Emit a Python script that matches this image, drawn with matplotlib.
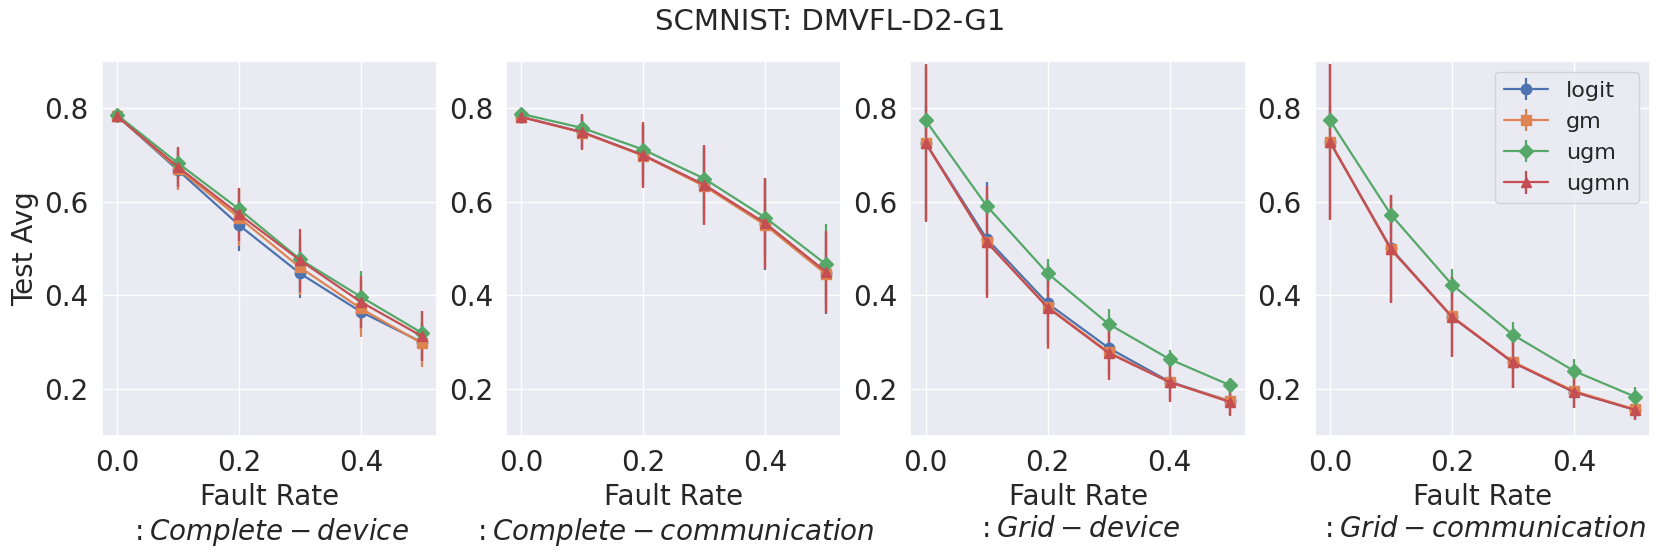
import numpy as np
import matplotlib
matplotlib.use("Agg")
import matplotlib.pyplot as plt
import seaborn as sns

# fault rates on the x axis
fault_rates = [0.0, 0.1, 0.2, 0.3, 0.4, 0.5]
methods = ['logit', 'gm', 'ugm', 'ugmn']
markers = ['o', 's', 'D', '^']
scenarios = ['Complete-device', 'Complete-communication', 'Grid-device', 'Grid-communication']

# Complete - device
cd_logit = [0.783, 0.667, 0.550, 0.447, 0.365, 0.300]
cd_gm = [0.783, 0.670, 0.566, 0.460, 0.372, 0.298]
cd_ugm = [0.785, 0.682, 0.584, 0.477, 0.397, 0.320]
cd_ugmn = [0.782, 0.674, 0.573, 0.475, 0.386, 0.313]
cd_logit_err = [0.005, 0.040, 0.056, 0.053, 0.040, 0.040]
cd_gm_err = [0.005, 0.045, 0.060, 0.060, 0.060, 0.050]
cd_ugm_err = [0.005, 0.035, 0.045, 0.050, 0.055, 0.047]
cd_ugmn_err = [0.005, 0.042, 0.057, 0.067, 0.055, 0.053]

# Complete - communication
cc_logit = [0.781, 0.748, 0.699, 0.635, 0.553, 0.448]
cc_gm = [0.781, 0.747, 0.698, 0.633, 0.550, 0.445]
cc_ugm = [0.787, 0.757, 0.711, 0.649, 0.566, 0.466]
cc_ugmn = [0.780, 0.748, 0.699, 0.636, 0.554, 0.450]
cc_logit_err = [0.005, 0.035, 0.065, 0.080, 0.098, 0.088]
cc_gm_err = [0.005, 0.035, 0.065, 0.080, 0.090, 0.080]
cc_ugm_err = [0.005, 0.030, 0.055, 0.070, 0.085, 0.086]
cc_ugmn_err = [0.005, 0.038, 0.071, 0.085, 0.097, 0.087]

# Grid - device
gd_logit = [0.725, 0.521, 0.383, 0.288, 0.216, 0.174]
gd_gm = [0.725, 0.514, 0.376, 0.279, 0.215, 0.174]
gd_ugm = [0.773, 0.591, 0.447, 0.339, 0.264, 0.208]
gd_ugmn = [0.725, 0.514, 0.374, 0.277, 0.215, 0.172]
gd_logit_err = [0.165, 0.120, 0.085, 0.055, 0.040, 0.030]
gd_gm_err = [0.165, 0.117, 0.090, 0.060, 0.043, 0.030]
gd_ugm_err = [0.030, 0.020, 0.030, 0.031, 0.020, 0.015]
gd_ugmn_err = [0.168, 0.120, 0.087, 0.058, 0.042, 0.030]

# Grid - communication
gc_logit = [0.727, 0.500, 0.354, 0.257, 0.194, 0.156]
gc_gm = [0.728, 0.498, 0.355, 0.258, 0.196, 0.157]
gc_ugm = [0.773, 0.572, 0.423, 0.316, 0.239, 0.184]
gc_ugmn = [0.727, 0.498, 0.354, 0.257, 0.194, 0.156]
gc_logit_err = [0.165, 0.115, 0.085, 0.055, 0.034, 0.021]
gc_gm_err = [0.165, 0.115, 0.085, 0.055, 0.034, 0.021]
gc_ugm_err = [0.030, 0.043, 0.033, 0.028, 0.025, 0.020]
gc_ugmn_err = [0.167, 0.115, 0.085, 0.055, 0.034, 0.021]

means = [
    [cd_logit, cd_gm, cd_ugm, cd_ugmn],
    [cc_logit, cc_gm, cc_ugm, cc_ugmn],
    [gd_logit, gd_gm, gd_ugm, gd_ugmn],
    [gc_logit, gc_gm, gc_ugm, gc_ugmn],
]
errs = [
    [cd_logit_err, cd_gm_err, cd_ugm_err, cd_ugmn_err],
    [cc_logit_err, cc_gm_err, cc_ugm_err, cc_ugmn_err],
    [gd_logit_err, gd_gm_err, gd_ugm_err, gd_ugmn_err],
    [gc_logit_err, gc_gm_err, gc_ugm_err, gc_ugmn_err],
]

sns.set_theme(style='darkgrid')
colores = sns.color_palette('deep')

fig, axes = plt.subplots(1, 4, figsize=(16.6, 5.59), dpi=100)
fig.subplots_adjust(left=0.0613, right=0.994, bottom=0.220, top=0.891, wspace=0.206)

for i, ax in enumerate(axes):
    for j, metodo in enumerate(methods):
        ax.errorbar(fault_rates, means[i][j], yerr=errs[i][j], label=metodo,
                    marker=markers[j], color=colores[j], markersize=7.5, linewidth=1.6)
    ax.set_ylim(0.1, 0.9)
    ax.set_yticks([0.2, 0.4, 0.6, 0.8])
    ax.set_xticks([0.0, 0.2, 0.4])
    ax.tick_params(labelsize=20)
    ax.set_xlabel('Fault Rate\n$:' + scenarios[i] + '$', fontsize=20)

axes[0].set_ylabel('Test Avg', fontsize=20)
axes[3].legend(loc='upper right', fontsize=16)
fig.suptitle('SCMNIST: DMVFL-D2-G1', fontsize=21, y=0.985)

plt.savefig('out.png', dpi=100)
